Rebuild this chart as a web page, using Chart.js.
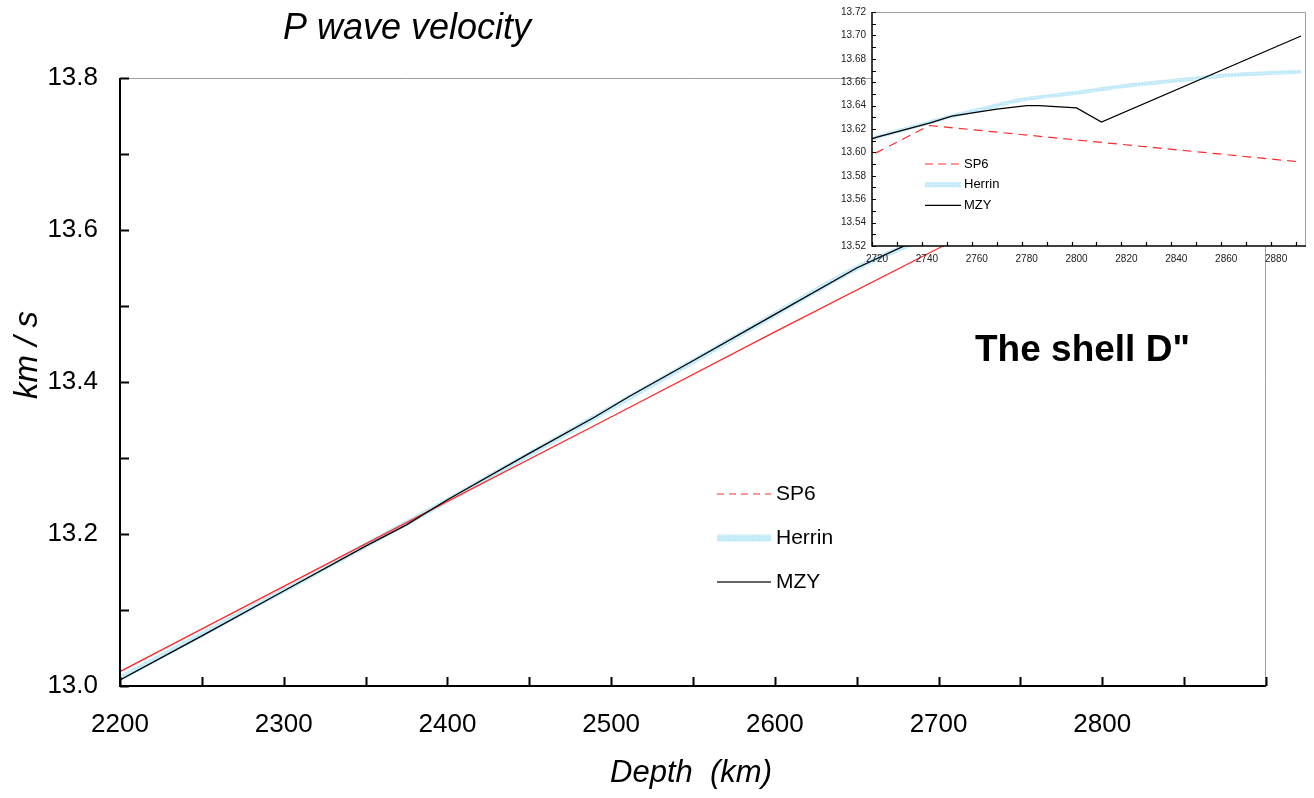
<!DOCTYPE html>
<html>
<head>
<meta charset="utf-8">
<script src="https://cdn.jsdelivr.net/npm/chart.js@4"></script>
<style>
  html, body { margin: 0; padding: 0; background: #fff; }
  #wrap { position: relative; width: 1314px; height: 798px; }
  #main { position: absolute; left: 0; top: 0; }
  #inset { position: absolute; left: 800px; top: 0; }
</style>
</head>
<body>
<div id="wrap">
  <canvas id="main" width="1314" height="798"></canvas>
  <canvas id="inset" width="514" height="280"></canvas>
</div>
<script>
// depth in km, velocity in km/s
const sp6Depth = [2200, 2300, 2400, 2500, 2600, 2700, 2722, 2743, 2891];
const sp6Vel = [13.019, 13.131, 13.243, 13.354, 13.466, 13.576, 13.600, 13.623, 13.592];

const herrinDepth = [2200, 2250, 2300, 2350, 2400, 2450, 2500, 2550, 2600, 2650, 2680, 2700, 2722, 2742, 2752, 2762, 2780, 2802, 2822, 2849, 2863, 2892];
const herrinVel = [13.010, 13.068, 13.126, 13.185, 13.244, 13.305, 13.366, 13.427, 13.489, 13.550, 13.579, 13.597, 13.613, 13.625, 13.631, 13.636, 13.645, 13.651, 13.657, 13.663, 13.666, 13.669];

const mzyDepth = [2200, 2250, 2300, 2350, 2375, 2400, 2450, 2490, 2511, 2550, 2600, 2650, 2680, 2700, 2722, 2743, 2752, 2770, 2782, 2787, 2802, 2812, 2892];
const mzyVel = [13.008, 13.066, 13.125, 13.184, 13.212, 13.245, 13.306, 13.354, 13.381, 13.428, 13.489, 13.550, 13.580, 13.598, 13.613, 13.625, 13.631, 13.637, 13.640, 13.640, 13.638, 13.626, 13.6995];

const mainXTicks = [2200, 2300, 2400, 2500, 2600, 2700, 2800];
const insetXTicks = [2720, 2740, 2760, 2780, 2800, 2820, 2840, 2860, 2880];

function pts(xs, ys) {
  return xs.map((x, i) => ({ x: x, y: ys[i] }));
}

// dotted light-blue texture for the Herrin curve
const pc = document.createElement('canvas');
pc.width = 3; pc.height = 3;
const pg = pc.getContext('2d');
pg.fillStyle = '#c2eaf9';
pg.fillRect(0, 0, 3, 3);
pg.fillStyle = '#e8f8fd';
pg.fillRect(1, 1, 1, 1);
const herrinPattern = pg.createPattern(pc, 'repeat');

function makeDatasets(inset) {
  return [
    {
      label: 'SP6', data: pts(sp6Depth, sp6Vel),
      borderColor: '#ff2a2a', borderWidth: inset ? 1.2 : 1.3,
      borderDash: inset ? [9, 6] : [], order: 1
    },
    {
      label: 'Herrin', data: pts(herrinDepth, herrinVel),
      borderColor: herrinPattern, borderWidth: inset ? 4 : 5.5,
      cubicInterpolationMode: 'monotone', order: 2
    },
    {
      label: 'MZY', data: pts(mzyDepth, mzyVel),
      borderColor: '#000', borderWidth: 1.3, order: 0
    }
  ];
}

function framePlugin(c) {
  return {
    id: 'frame',
    beforeDraw(chart) {
      if (!c.fill) return;
      const a = chart.chartArea, ctx = chart.ctx;
      ctx.save();
      ctx.fillStyle = '#fff';
      ctx.fillRect(a.left, a.top, a.right - a.left, a.bottom - a.top);
      ctx.restore();
    },
    afterDatasetsDraw(chart) {
      const { ctx, chartArea: a, scales: { x, y } } = chart;
      ctx.save();
      ctx.strokeStyle = '#a0a0a0';
      ctx.lineWidth = 1;
      ctx.beginPath();
      ctx.moveTo(a.left, a.top + 0.5);
      ctx.lineTo(a.right - 0.5, a.top + 0.5);
      ctx.lineTo(a.right - 0.5, a.bottom);
      ctx.stroke();

      ctx.strokeStyle = '#000';
      ctx.lineWidth = c.axisWidth;
      ctx.beginPath();
      ctx.moveTo(a.left, a.top);
      ctx.lineTo(a.left, a.bottom);
      ctx.lineTo(a.right, a.bottom);
      ctx.stroke();

      ctx.lineWidth = c.tickWidth;
      ctx.beginPath();
      for (let v = c.xStart; v <= x.max + 1e-9; v += c.xMinor) {
        const px = Math.round(x.getPixelForValue(v)) + 0.5;
        ctx.moveTo(px, a.bottom);
        ctx.lineTo(px, a.bottom - c.tickLen);
      }
      for (let k = 0; ; k++) {
        const v = y.min + k * c.yMinor;
        if (v > y.max + 1e-9) break;
        const py = Math.round(y.getPixelForValue(v)) + 0.5;
        ctx.moveTo(a.left, py);
        ctx.lineTo(a.left + c.tickLen, py);
      }
      ctx.stroke();
      ctx.restore();
    }
  };
}

function legendPlugin(items, c) {
  return {
    id: 'lineLegend',
    afterDraw(chart) {
      const ctx = chart.ctx;
      ctx.save();
      ctx.font = c.font;
      ctx.textBaseline = 'middle';
      ctx.textAlign = 'left';
      items.forEach((it, i) => {
        const yy = c.y + i * c.gap;
        ctx.beginPath();
        ctx.strokeStyle = it.color;
        ctx.lineWidth = it.width;
        ctx.setLineDash(it.dash || []);
        ctx.moveTo(c.x0, yy);
        ctx.lineTo(c.x1, yy);
        ctx.stroke();
        ctx.setLineDash([]);
        ctx.fillStyle = '#000';
        ctx.fillText(it.label, c.tx, yy);
      });
      ctx.restore();
    }
  };
}

const textPlugin = {
  id: 'texts',
  afterDraw(chart) {
    const ctx = chart.ctx;
    ctx.save();
    ctx.fillStyle = '#000';
    ctx.textBaseline = 'middle';
    ctx.textAlign = 'center';
    ctx.font = 'italic 36px Arial, "Liberation Sans", sans-serif';
    ctx.fillText('P wave velocity', 407, 29);
    ctx.font = 'italic 31px Arial, "Liberation Sans", sans-serif';
    ctx.fillText('Depth  (km)', 691, 773);
    ctx.save();
    ctx.translate(28, 355);
    ctx.rotate(-Math.PI / 2);
    ctx.font = 'italic 33px Arial, "Liberation Sans", sans-serif';
    ctx.fillText('km / s', 0, 0);
    ctx.restore();
    ctx.textAlign = 'left';
    ctx.font = 'bold 37px Arial, "Liberation Sans", sans-serif';
    ctx.fillText('The shell D"', 975, 351);
    ctx.restore();
  }
};

const FONT = 'Arial, "Liberation Sans", sans-serif';

new Chart(document.getElementById('main'), {
  type: 'line',
  data: { datasets: makeDatasets(false) },
  plugins: [
    framePlugin({ fill: false, axisWidth: 2, tickWidth: 2, tickLen: 9, xStart: 2200, xMinor: 50, yMinor: 0.1 }),
    legendPlugin([
      { label: 'SP6', color: '#ff3030', width: 1.2, dash: [7, 5] },
      { label: 'Herrin', color: herrinPattern, width: 7 },
      { label: 'MZY', color: '#333', width: 1.5 }
    ], { font: '21px ' + FONT, x0: 717, x1: 771, tx: 776, y: 494, gap: 44 }),
    textPlugin
  ],
  options: {
    responsive: false,
    animation: false,
    layout: { padding: { top: 78, right: 48, left: 0, bottom: 0 } },
    elements: { point: { radius: 0 }, line: { tension: 0 } },
    plugins: { legend: { display: false }, tooltip: { enabled: false }, title: { display: false } },
    scales: {
      x: {
        type: 'linear', min: 2200, max: 2900,
        afterFit: s => { s.height = 112; },
        afterBuildTicks: s => { s.ticks = mainXTicks.map(v => ({ value: v })); },
        grid: { display: false, drawTicks: false },
        border: { display: false },
        ticks: { color: '#000', font: { size: 26, family: FONT }, padding: 23, maxRotation: 0, autoSkip: false,
                 callback: v => String(v) }
      },
      y: {
        type: 'linear', min: 13.0, max: 13.8,
        afterFit: s => { s.width = 120; },
        grid: { display: false, drawTicks: false },
        border: { display: false },
        ticks: { stepSize: 0.2, color: '#000', font: { size: 26, family: FONT }, padding: 22,
                 callback: v => Number(v).toFixed(1) }
      }
    }
  }
});

new Chart(document.getElementById('inset'), {
  type: 'line',
  data: { datasets: makeDatasets(true) },
  plugins: [
    framePlugin({ fill: true, axisWidth: 1.5, tickWidth: 1.2, tickLen: 4, xStart: 2720, xMinor: 10, yMinor: 0.01 }),
    legendPlugin([
      { label: 'SP6', color: '#ff3030', width: 1.2, dash: [8, 5] },
      { label: 'Herrin', color: herrinPattern, width: 5 },
      { label: 'MZY', color: '#000', width: 1.2 }
    ], { font: '13px ' + FONT, x0: 125, x1: 161, tx: 164, y: 164, gap: 20.7 })
  ],
  options: {
    responsive: false,
    animation: false,
    layout: { padding: { top: 10, right: 8, left: 0, bottom: 0 } },
    elements: { point: { radius: 0 }, line: { tension: 0 } },
    plugins: { legend: { display: false }, tooltip: { enabled: false }, title: { display: false } },
    scales: {
      x: {
        type: 'linear', min: 2720, max: 2894,
        afterFit: s => { s.height = 34; },
        afterBuildTicks: s => { s.ticks = insetXTicks.map(v => ({ value: v })); },
        grid: { display: false, drawTicks: false },
        border: { display: false },
        ticks: { color: '#222', font: { size: 10, family: FONT }, padding: 7, labelOffset: 5,
                 maxRotation: 0, autoSkip: false, callback: v => String(v) }
      },
      y: {
        type: 'linear', min: 13.52, max: 13.72,
        afterFit: s => { s.width = 72; },
        grid: { display: false, drawTicks: false },
        border: { display: false },
        ticks: { stepSize: 0.02, color: '#222', font: { size: 10, family: FONT }, padding: 6,
                 callback: v => Number(v).toFixed(2) }
      }
    }
  }
});
</script>
</body>
</html>
